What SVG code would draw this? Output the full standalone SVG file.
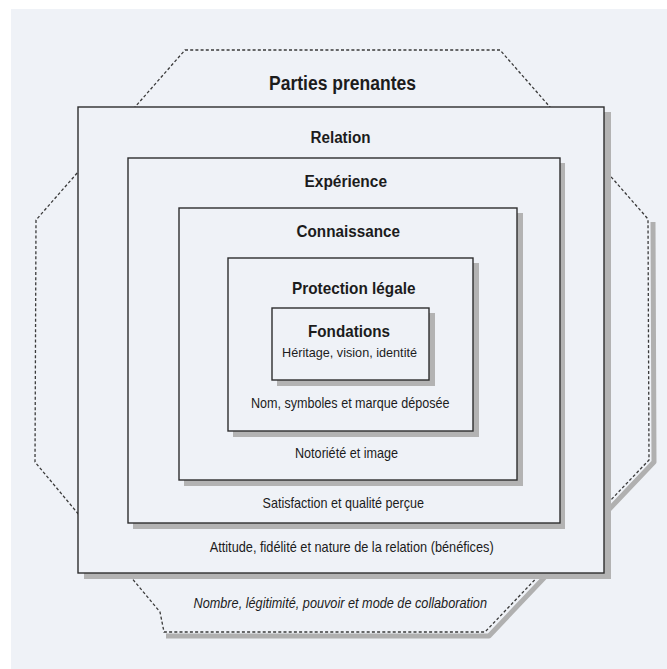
<svg xmlns="http://www.w3.org/2000/svg" width="667" height="669" viewBox="0 0 667 669">
  <style>
    .bg { fill: #eff2f7; }
    .box { fill: #eff2f7; stroke: #2e2e2e; stroke-width: 1.4; }
    .shadow { fill: #b3b3b3; }
    .oct { fill: #eff2f7; stroke: #3a3a3a; stroke-width: 1.3; stroke-dasharray: 3 2.2; }
    .octshadow { fill: none; stroke: #b0b0b0; stroke-width: 5; stroke-linejoin: round; }
    .t { font-family: "Liberation Sans", Arial, sans-serif; fill: #1c1c1c; text-anchor: start; }
    .b { font-weight: bold; }
    .i { font-style: italic; }
  </style>
  <rect x="0" y="0" width="667" height="669" fill="#ffffff"/>
  <rect class="bg" x="11" y="9" width="656" height="660"/>

  <g id="parties-prenantes">
    <polyline class="octshadow" points="653,222 654,462 489,636 166,636"/>
    <polygon class="oct" points="185,50 500,50 648,219 649,460 485,632 164,632 160,612 35,462 36,220"/>
    <text class="t b" x="269" y="90" font-size="19.5" textLength="147" lengthAdjust="spacingAndGlyphs">Parties prenantes</text>
    <text class="t i" x="193.5" y="608" font-size="14.5" textLength="293.5" lengthAdjust="spacingAndGlyphs">Nombre, légitimité, pouvoir et mode de collaboration</text>
  </g>

  <g id="relation">
    <rect class="shadow" x="84" y="112" width="527" height="467"/>
    <rect class="box" x="78" y="107" width="526" height="466"/>
    <text class="t b" x="310.5" y="143" font-size="16" textLength="60" lengthAdjust="spacingAndGlyphs">Relation</text>
    <text class="t" x="209.7" y="552" font-size="14.5" textLength="284" lengthAdjust="spacingAndGlyphs">Attitude, fidélité et nature de la relation (bénéfices)</text>
  </g>

  <g id="experience">
    <rect class="shadow" x="133" y="163" width="432" height="366"/>
    <rect class="box" x="128" y="158" width="432" height="365"/>
    <text class="t b" x="304.5" y="187" font-size="16.5" textLength="82.5" lengthAdjust="spacingAndGlyphs">Expérience</text>
    <text class="t" x="262.5" y="508" font-size="14.5" textLength="161.5" lengthAdjust="spacingAndGlyphs">Satisfaction et qualité perçue</text>
  </g>

  <g id="connaissance">
    <rect class="shadow" x="184" y="213" width="339" height="273"/>
    <rect class="box" x="179" y="208" width="338" height="272"/>
    <text class="t b" x="296.5" y="237" font-size="16.5" textLength="103.5" lengthAdjust="spacingAndGlyphs">Connaissance</text>
    <text class="t" x="295" y="458" font-size="14.5" textLength="103" lengthAdjust="spacingAndGlyphs">Notoriété et image</text>
  </g>

  <g id="protection-legale">
    <rect class="shadow" x="233" y="263" width="246" height="174"/>
    <rect class="box" x="228" y="258" width="245" height="173"/>
    <text class="t b" x="292" y="294" font-size="16.5" textLength="123.5" lengthAdjust="spacingAndGlyphs">Protection légale</text>
    <text class="t" x="251" y="408" font-size="14.5" textLength="198.5" lengthAdjust="spacingAndGlyphs">Nom, symboles et marque déposée</text>
  </g>

  <g id="fondations">
    <rect class="shadow" x="277" y="313" width="158" height="73"/>
    <rect class="box" x="272" y="308" width="157" height="72"/>
    <text class="t b" x="308" y="337" font-size="16.5" textLength="82" lengthAdjust="spacingAndGlyphs">Fondations</text>
    <text class="t" x="282" y="357" font-size="13.5" textLength="135" lengthAdjust="spacingAndGlyphs">Héritage, vision, identité</text>
  </g>

  <g id="connectors"></g>
</svg>
